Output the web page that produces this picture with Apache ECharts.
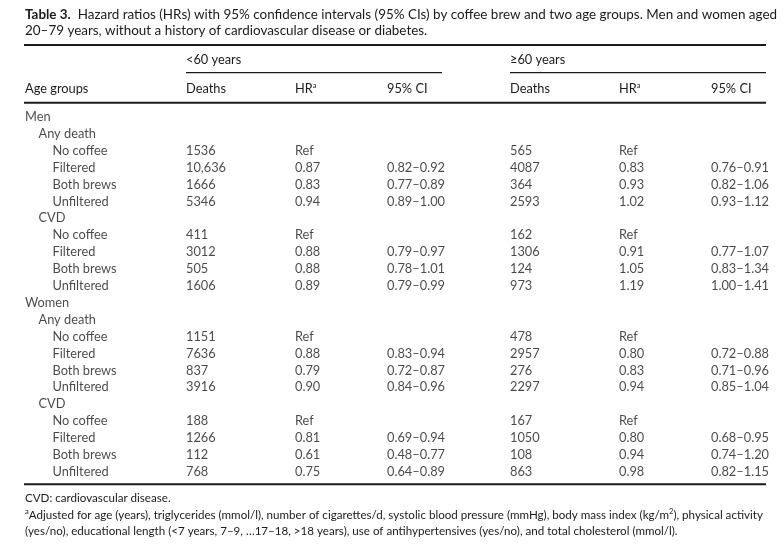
<!DOCTYPE html>
<html>
<head>
<meta charset="utf-8">
<script src="https://cdn.jsdelivr.net/npm/echarts@6/dist/echarts.min.js"></script>
<style>
html,body{margin:0;padding:0;background:#fff;}
#chart{width:784px;height:556px;}
</style>
</head>
<body>
<div id="chart"></div>
<script>
// ---------- DATA ----------
const rowLabels = ['Men','Any death','No coffee','Filtered','Both brews','Unfiltered','CVD','No coffee','Filtered','Both brews','Unfiltered',
                   'Women','Any death','No coffee','Filtered','Both brews','Unfiltered','CVD','No coffee','Filtered','Both brews','Unfiltered'];
const rowLevels = [0,1,2,2,2,2,1,2,2,2,2, 0,1,2,2,2,2,1,2,2,2,2];

const deathsUnder60 = [null,null,1536,10636,1666,5346,null,411,3012,505,1606, null,null,1151,7636,837,3916,null,188,1266,112,768];
const hrUnder60     = [null,null,'Ref',0.87,0.83,0.94,null,'Ref',0.88,0.88,0.89, null,null,'Ref',0.88,0.79,0.90,null,'Ref',0.81,0.61,0.75];
const ciUnder60     = [null,null,null,[0.82,0.92],[0.77,0.89],[0.89,1.00],null,null,[0.79,0.97],[0.78,1.01],[0.79,0.99],
                       null,null,null,[0.83,0.94],[0.72,0.87],[0.84,0.96],null,null,[0.69,0.94],[0.48,0.77],[0.64,0.89]];

const deathsOver60  = [null,null,565,4087,364,2593,null,162,1306,124,973, null,null,478,2957,276,2297,null,167,1050,108,863];
const hrOver60      = [null,null,'Ref',0.83,0.93,1.02,null,'Ref',0.91,1.05,1.19, null,null,'Ref',0.80,0.83,0.94,null,'Ref',0.80,0.94,0.98];
const ciOver60      = [null,null,null,[0.76,0.91],[0.82,1.06],[0.93,1.12],null,null,[0.77,1.07],[0.83,1.34],[1.00,1.41],
                       null,null,null,[0.72,0.88],[0.71,0.96],[0.85,1.04],null,null,[0.68,0.95],[0.74,1.20],[0.82,1.15]];

const ageGroupHeaders = ['<60 years', '\u226560 years'];
const columnHeaders = ['Deaths', 'HR{sup|a}', '95% CI'];

// ---------- LAYOUT ----------
const W = 784, H = 556;
const INK = '#1c1a1b';
const FONT = 'Lato, "Open Sans", sans-serif';
const FS = 12.8;
const labelX = [25, 38.5, 52.5];
const colX = { d1: 186, hr1: 295, ci1: 387, d2: 510, hr2: 619, ci2: 711 };

// ---------- FORMATTERS ----------
const fmtDeaths = n => n == null ? null : (n >= 10000 ? n.toLocaleString('en-US') : String(n));
const fmtHR = v => v == null ? null : (typeof v === 'string' ? v : v.toFixed(2));
const fmtCI = c => c == null ? null : c[0].toFixed(2) + '\u2013' + c[1].toFixed(2);

function cells(arr, fmt, x) {
  const out = [];
  arr.forEach((v, i) => {
    const t = fmt(v);
    if (t != null) out.push([x, i, t]);
  });
  return out;
}

const labelCells = rowLabels.map((t, i) => [labelX[rowLevels[i]], i, t]);

function textSeries(name, data) {
  return {
    name, type: 'scatter', symbolSize: 0, silent: true,
    data,
    label: {
      show: true, position: 'inside', align: 'left', verticalAlign: 'middle',
      formatter: p => p.value[2],
      color: INK, fontFamily: FONT, fontSize: FS
    },
    emphasis: { disabled: true }
  };
}

const series = [
  textSeries('labels', labelCells),
  textSeries('deaths<60', cells(deathsUnder60, fmtDeaths, colX.d1)),
  textSeries('hr<60', cells(hrUnder60, fmtHR, colX.hr1)),
  textSeries('ci<60', cells(ciUnder60, fmtCI, colX.ci1)),
  textSeries('deaths>=60', cells(deathsOver60, fmtDeaths, colX.d2)),
  textSeries('hr>=60', cells(hrOver60, fmtHR, colX.hr2)),
  textSeries('ci>=60', cells(ciOver60, fmtCI, colX.ci2))
];

function richFor(fs) {
  return {
    sup: { fontSize: 7.5, fontFamily: FONT, fill: INK, color: INK, padding: [0, 0, 7, 0] },
    b: { fontWeight: 'bold', fontFamily: FONT, fontSize: fs, fill: INK, color: INK }
  };
}

function txt(x, y, text, fs) {
  fs = fs || FS;
  return {
    type: 'text', x, y, silent: true,
    style: {
      text, fill: INK, fontFamily: FONT, fontSize: fs,
      verticalAlign: 'middle', align: 'left', rich: richFor(fs)
    }
  };
}
function rule(x1, x2, y, w) {
  return { type: 'line', silent: true, shape: { x1, y1: y, x2, y2: y }, style: { stroke: INK, lineWidth: w } };
}

const TFS = 13.45, NFS = 11.6;
const graphic = [
  // title
  txt(25, 14.5, '{b|Table 3.}  Hazard ratios (HRs) with 95% confidence intervals (95% CIs) by coffee brew and two age groups. Men and women aged', TFS),
  txt(25, 31, '20\u201379 years, without a history of cardiovascular disease or diabetes.', TFS),
  rule(24, 766, 45, 2),
  // age group headers
  txt(colX.d1, 60, ageGroupHeaders[0]),
  txt(colX.d2, 60, ageGroupHeaders[1]),
  rule(186, 442, 72.7, 1.3),
  rule(510, 766, 72.7, 1.3),
  // column headers
  txt(25, 89, 'Age groups'),
  txt(colX.d1, 89, columnHeaders[0]),
  txt(colX.hr1, 89, columnHeaders[1]),
  txt(colX.ci1, 89, columnHeaders[2]),
  txt(colX.d2, 89, columnHeaders[0]),
  txt(colX.hr2, 89, columnHeaders[1]),
  txt(colX.ci2, 89, columnHeaders[2]),
  rule(24, 766, 102.7, 2),
  rule(24, 766, 484.3, 2),
  // footnotes
  txt(25, 498.5, 'CVD: cardiovascular disease.', NFS),
  txt(25, 515, '{sup|a}Adjusted for age (years), triglycerides (mmol/l), number of cigarettes/d, systolic blood pressure (mmHg), body mass index (kg/m{sup|2}), physical activity', NFS),
  txt(25, 531, '(yes/no), educational length (<7 years, 7\u20139, \u202617\u201318, >18 years), use of antihypertensives (yes/no), and total cholesterol (mmol/l).', NFS)
];

const chart = echarts.init(document.getElementById('chart'), null, { renderer: 'canvas' });
chart.setOption({
  animation: false,
  backgroundColor: '#fff',
  grid: { left: 0, right: 0, top: 108.45, bottom: 75.75 },
  xAxis: { type: 'value', min: 0, max: W, show: false },
  yAxis: { type: 'category', data: rowLabels.map((_, i) => i), inverse: true, show: false },
  series,
  graphic
});
</script>
</body>
</html>
